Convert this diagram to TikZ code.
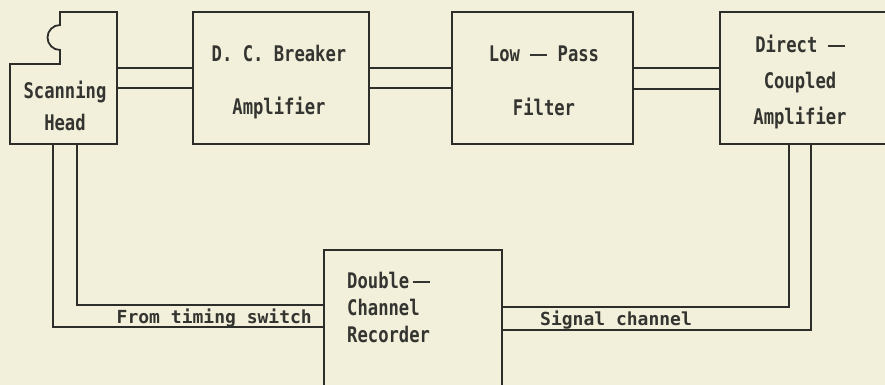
\documentclass[tikz,border=0pt]{standalone}
\usepackage{fontspec}
\usetikzlibrary{calc}
\newfontfamily\boxfont[FakeStretch=0.8]{DejaVu Sans Mono Bold}
\newfontfamily\lblfont{DejaVu Sans Mono Bold}
\newcommand{\longdash}{\rule[5.5pt]{17pt}{2pt}}
\definecolor{paper}{RGB}{242,240,218}
\definecolor{ink}{RGB}{45,45,42}
\definecolor{textink}{RGB}{52,52,48}
\tikzset{
  wire/.style={draw=ink, line width=1.8pt, line join=miter},
  boxshape/.style={draw=ink, line width=1.8pt, rectangle, inner sep=0pt},
  boxtext/.style={text=textink, align=center, inner sep=0pt, font=\boxfont\fontsize{21.5}{#1}\selectfont},
  lbltext/.style={text=textink, inner sep=0pt, font=\lblfont\fontsize{18}{20}\selectfont}
}
\begin{document}
\begin{tikzpicture}[x=1pt,y=-1pt]
\fill[paper] (0,0) rectangle (885,385);
\useasboundingbox (0,0) rectangle (885,385);
% scanning head outline
\draw[wire] (60,12) -- (117,12) -- (117,144) -- (10,144) -- (10,64) -- (60,64) -- (60,50)
  arc[start angle=270, end angle=90, radius=12.5pt] -- cycle;
\node[minimum width=107pt, minimum height=80pt, inner sep=0pt] (head) at (63.5,104) {};
\node[boxtext=32] (headtxt) at (65,106) {Scanning\\Head};
% boxes
\node[boxshape, minimum width=176pt, minimum height=132pt] (dcb) at (281,78) {};
\node[boxtext=53] (dcbtxt) at (279,82) {D. C. Breaker\\Amplifier};
\node[boxshape, minimum width=181pt, minimum height=132pt] (lpf) at (542.5,78) {};
\node[boxtext=54] (lpftxt) at (544,81) {Low \longdash{} Pass\\Filter};
\node[boxshape, minimum width=180pt, minimum height=132pt] (dca) at (810,78) {};
\node[boxtext=36] (dcatxt) at (800,82) {Direct \longdash\\Coupled\\Amplifier};
\node[boxshape, minimum width=178pt, minimum height=170pt] (rec) at (413,335) {};
\node[boxtext=27, align=left, anchor=west] (rectxt) at (347,307) {Double\,\longdash\\Channel\\Recorder};
% double connectors
\draw[wire] (head.east |- 0,68) -- (dcb.west |- 0,68);
\draw[wire] (head.east |- 0,88) -- (dcb.west |- 0,88);
\draw[wire] (dcb.east |- 0,68) -- (lpf.west |- 0,68);
\draw[wire] (dcb.east |- 0,88) -- (lpf.west |- 0,88);
\draw[wire] (lpf.east |- 0,68) -- (dca.west |- 0,68);
\draw[wire] (lpf.east |- 0,89) -- (dca.west |- 0,89);
\draw[wire] (head.south -| 53,0) |- (rec.west |- 0,327);
\draw[wire] (head.south -| 77,0) |- (rec.west |- 0,305);
\draw[wire] (dca.south -| 789,0) |- (rec.east |- 0,307);
\draw[wire] (dca.south -| 811,0) |- (rec.east |- 0,330);
% labels
\node[lbltext, anchor=base east] (timing) at (312,323) {From timing switch};
\node[lbltext, anchor=base west] (signal) at (540,325) {Signal channel};
\end{tikzpicture}
\end{document}
